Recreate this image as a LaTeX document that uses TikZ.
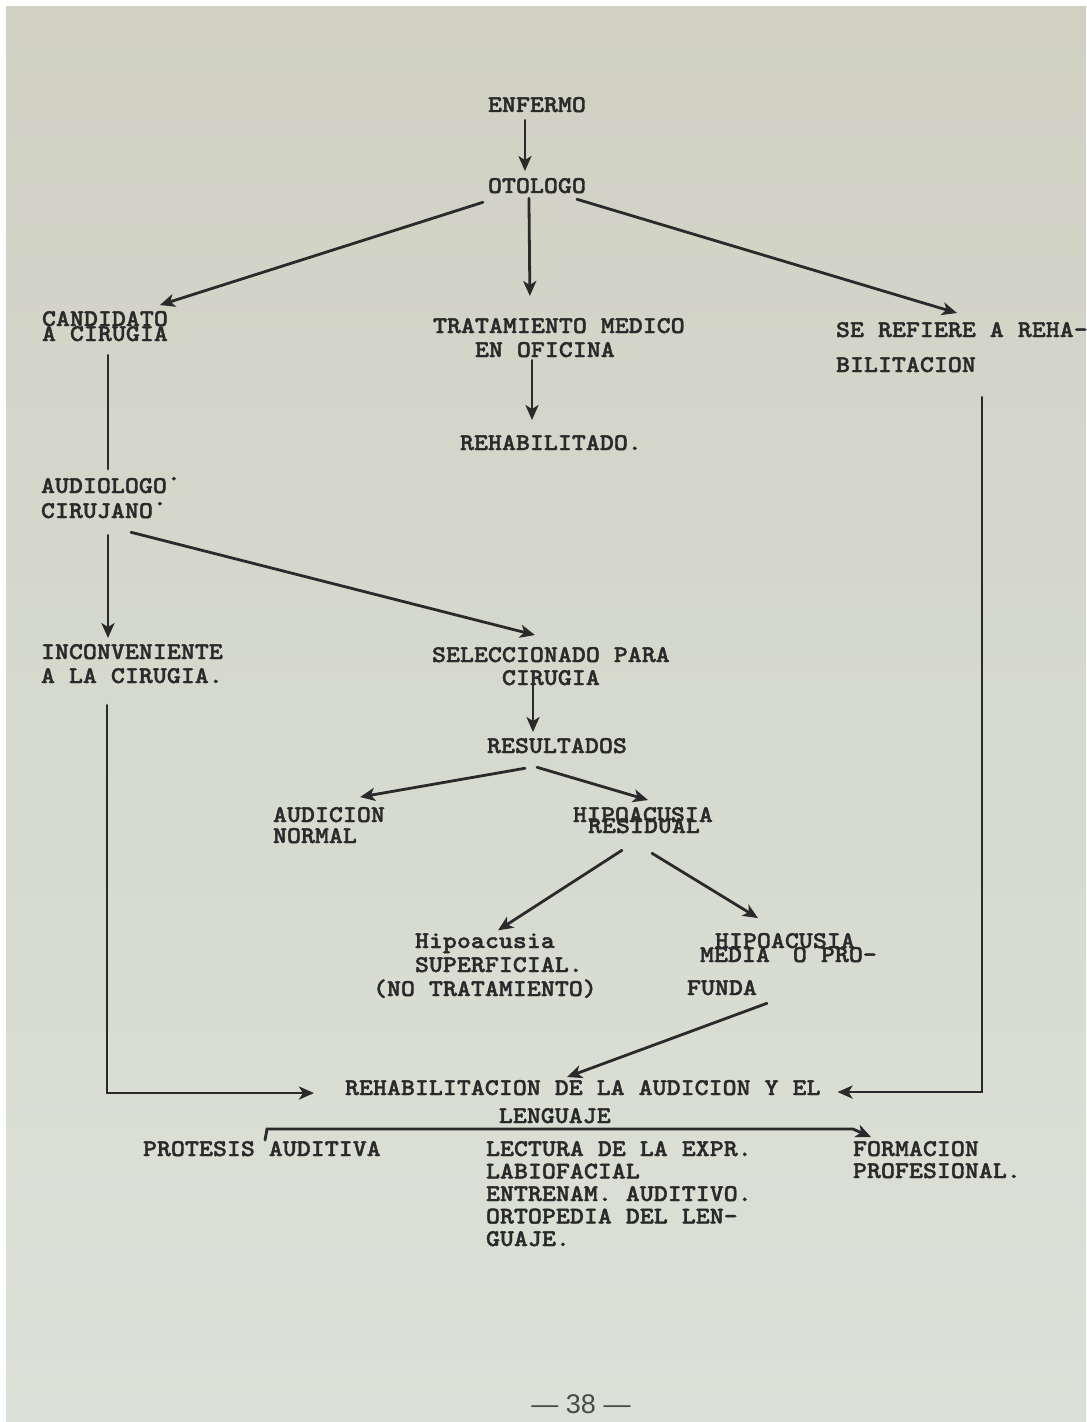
\documentclass[tikz,border=0pt]{standalone}
\usepackage{fontspec}
\setmainfont{Liberation Serif}
\newfontfamily\twfam{lmmonolt10-bold.otf}[FakeStretch=1.11,FakeBold=1.6]
\newfontfamily\pagenumfont{Liberation Sans}
\usetikzlibrary{calc,arrows.meta}
\definecolor{ink}{HTML}{2A2A2A}
\definecolor{paperTop}{HTML}{D0D1C3}
\definecolor{paperBot}{HTML}{DCE1D7}
\newcommand\twfont{\twfam\fontsize{24bp}{24bp}\selectfont}
\newcommand\tdot{\raisebox{7bp}{·}}
\begin{document}
\begin{tikzpicture}[x=1bp,y=-1bp,
  lbl/.style={font=\twfont, text=ink, inner sep=0pt, outer sep=0pt, anchor=base west, align=left},
  conn/.style={draw=ink, line width=2.8bp, line cap=round},
  arr/.style={conn, -{Stealth[length=15bp,width=13bp,inset=4bp]}}]
\useasboundingbox (0,0) rectangle (1086,1422);
\fill[white] (0,0) rectangle (1086,1422);
\shade[top color=paperTop, bottom color=paperBot] (6,7) rectangle (1086,1422);

% (position = baseline of the last line)
\node[lbl] (enfermo) at (488,112) {ENFERMO};
\node[lbl] (otologo) at (488,193) {OTOLOGO};
\node[lbl] (candidato) at (42,341) {CANDIDATO\\[-9bp]A CIRUGIA};
\node[lbl] (tratamiento) at (433,357) {TRATAMIENTO MEDICO\\\phantom{XXX}EN OFICINA};
\node[lbl] (serefiere) at (836,372) {SE REFIERE A REHA-\\[11bp]BILITACION};
\node[lbl] (rehabilitado) at (460,450) {REHABILITADO.};
\node[lbl] (audiologo) at (41,518) {AUDIOLOGO\tdot\\[1bp]CIRUJANO\tdot};
\node[lbl] (inconveniente) at (41,683) {INCONVENIENTE\\A LA CIRUGIA.};
\node[lbl] (seleccionado) at (432,685) {SELECCIONADO PARA\\[-1bp]\phantom{XXXXX}CIRUGIA};
\node[lbl] (resultados) at (487,753) {RESULTADOS};
\node[lbl] (audicion) at (273,843) {AUDICION\\[-3bp]NORMAL};
\node[lbl] (hiporesidual) at (573,833) {HIPOACUSIA\\[-13bp]\hspace*{15bp}RESIDUAL};
\node[lbl] (hiposup) at (373,996) {\phantom{XXX}Hipoacusia\\\phantom{XXX}SUPERFICIAL.\\(NO TRATAMIENTO)};
\node[lbl] (hipomedia) at (687,995) {\hspace*{28bp}HIPOACUSIA\\[-10bp]\hspace*{13bp}MEDIA\hspace*{23bp}O PRO-\\[9bp]FUNDA};
\node[lbl] (rehabaud) at (345,1123) {REHABILITACION DE LA AUDICION Y EL\\[4bp]\phantom{XXXXXXXXXXX}LENGUAJE};
\node[lbl] (protesis) at (143,1156) {PROTESIS AUDITIVA};
\node[lbl] (lectura) at (486,1246) {LECTURA DE LA EXPR.\\[-1.5bp]LABIOFACIAL\\[-1.5bp]ENTRENAM. AUDITIVO.\\[-1.5bp]ORTOPEDIA DEL LEN-\\[-1.5bp]GUAJE.};
\node[lbl] (formacion) at (853,1178) {FORMACION\\[-2bp]PROFESIONAL.};
\node[font=\pagenumfont\fontsize{27bp}{27bp}\selectfont, text=ink!85, inner sep=0pt, anchor=base] (pagenum) at (581,1413) {— 38 —};

\draw[arr] ($(enfermo.south)+(-12,8)$) -- ($(otologo.north)+(-12,-7)$);
\draw[arr] ($(otologo.south west)+(-5,9)$) -- ($(candidato.north east)+(-8,-6)$);
\draw[arr] ($(otologo.south)+(-8,5)$) -- ($(tratamiento.north)+(-29,-22)$);
\draw[arr] ($(otologo.south east)+(-9,6)$) -- ($(serefiere.north west)+(121,-9)$);
\draw[arr] ($(tratamiento.south west)+(99,3)$) -- ($(rehabilitado.north west)+(72,-15)$);
\draw[conn] ($(candidato.south west)+(66,14)$) -- ($(audiologo.north west)+(67,-8)$);
\draw[arr] ($(audiologo.south west)+(67,17)$) -- ($(inconveniente.north west)+(67,-6)$);
\draw[arr] ($(audiologo.south west)+(90,14)$) -- ($(seleccionado.north west)+(103,-12)$);
\draw[arr] ($(seleccionado.south west)+(101,-3)$) -- ($(resultados.north west)+(46,-6)$);
\draw[arr] ($(resultados.south west)+(38,15)$) -- ($(audicion.north west)+(87,-10)$);
\draw[arr] ($(resultados.south west)+(50,14)$) -- ($(hiporesidual.north west)+(75,-7)$);
\draw[arr] ($(hiporesidual.south west)+(49,17)$) -- ($(hiposup.north west)+(125,-3)$);
\draw[arr] ($(hiporesidual.south west)+(79,20)$) -- ($(hipomedia.north west)+(71,-15)$);
\draw[arr] ($(hipomedia.south west)+(80,8)$) -- ($(rehabaud.north west)+(222,-3)$);
\draw[arr] ($(inconveniente.south west)+(66,22)$) |- ($(rehabaud.north west)+(-31,13)$);
\draw[arr] ($(serefiere.south west)+(146,25)$) |- ($(rehabaud.north east)+(17,12)$);
\draw[arr] ($(protesis.north west)+(122,-1)$) -- ++(2,-11) -- ($(formacion.north west)+(0,-12)$) -- ($(formacion.north west)+(18,-4)$);
\end{tikzpicture}
\end{document}
